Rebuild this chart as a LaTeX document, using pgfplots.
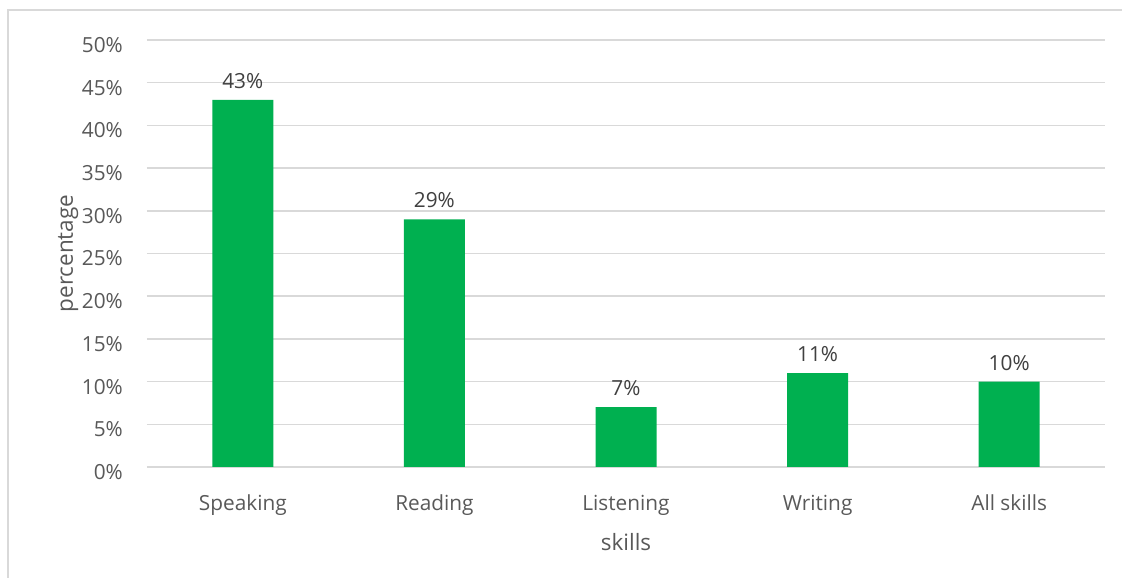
\documentclass[border=0pt]{standalone}
\usepackage{pgfplots}
\pgfplotsset{compat=1.18}
\usepackage{fontspec}
\setmainfont{Open Sans}
\definecolor{bargreen}{HTML}{00B050}
\definecolor{gridgray}{HTML}{D9D9D9}
\definecolor{ticktext}{HTML}{595959}
\definecolor{labeltext}{HTML}{404040}
\begin{document}
\begin{tikzpicture}[x=1pt,y=1pt]
\useasboundingbox (0,0) rectangle (1122,578);
\fill[white] (0,0) rectangle (1122,578);
\draw[gridgray, line width=1.5pt] (8,0) -- (8,568) -- (1130,568);
\begin{axis}[
  at={(147pt,111pt)}, anchor=south west,
  width=958pt, height=427pt, scale only axis,
  xmin=-0.5, xmax=4.5, ymin=0, ymax=50,
  axis line style={draw=none},
  ymajorgrids, grid style={gridgray, line width=1.5pt},
  major tick length=0pt,
  ytick={0,5,...,50},
  yticklabel={\pgfmathprintnumber{\tick}\%},
  xtick={0,1,2,3,4},
  xticklabels={Speaking,Reading,Listening,Writing,All skills},
  /pgf/number format/assume math mode=true,
  tick label style={font=\fontsize{20.8}{25}\selectfont, text=ticktext},
  yticklabel style={anchor=base east, inner sep=0pt, xshift=-24pt, yshift=-12.5pt},
  xticklabel style={anchor=base, inner sep=0pt, yshift=-44pt},
  xlabel={skills},
  ylabel={percentage},
  label style={font=\fontsize{22.5}{27}\selectfont, text=ticktext},
  xlabel style={at={(axis description cs:0.5,-0.1944)}, anchor=base, inner sep=0pt},
  ylabel style={at={(axis description cs:-0.0773,0.5)}, anchor=base, inner sep=0pt, rotate=0},
  ybar, bar width=61pt,
  nodes near coords={\pgfmathprintnumber{\pgfplotspointmeta}\%},
  nodes near coords style={font=\fontsize{20.8}{25}\selectfont, text=labeltext, anchor=base, inner sep=0pt, yshift=11.5pt},
]
\addplot[fill=bargreen, draw=none] coordinates {(0,43) (1,29) (2,7) (3,11) (4,10)};
\end{axis}
\end{tikzpicture}
\end{document}
